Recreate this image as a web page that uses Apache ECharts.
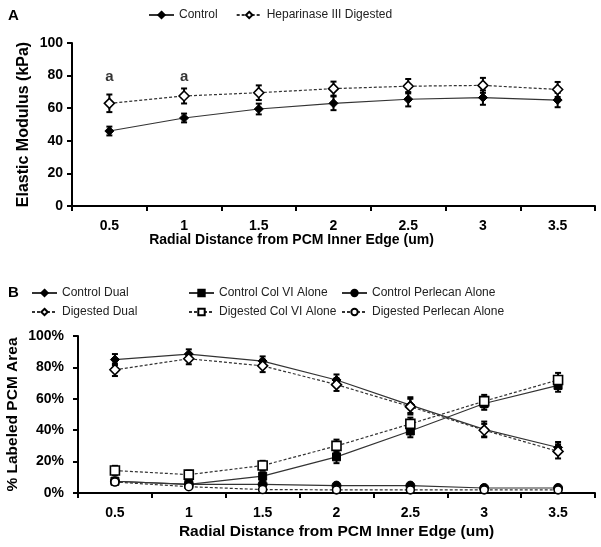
<!DOCTYPE html>
<html><head><meta charset="utf-8">
<script src="https://cdn.jsdelivr.net/npm/echarts@6/dist/echarts.min.js"></script>
<style>html,body{margin:0;padding:0;background:#fff}#c{width:601px;height:547px}</style>
</head><body><div id="c"></div>
<script>
const categories = ['0.5','1','1.5','2','2.5','3','3.5'];
const yTicksA = [0,20,40,60,80,100];
// Panel A
const controlMod = [46, 54, 59.5, 63, 65.5, 66.5, 65];
const controlModErr = [2.7, 2.7, 3.3, 4.2, 4.4, 4.4, 4.4];
const digestedMod = [63, 67.5, 69.5, 72, 73.5, 74, 71.5];
const digestedModErr = [5.4, 4.6, 4.5, 4.3, 4.4, 4.6, 4.6];
const sigLabelY = [79, 79, null, null, null, null, null];
// Panel B (percent)
const controlDual = [85, 88.5, 84, 72, 56, 40.5, 29];
const controlDualErr = [3.5, 3, 3, 3.5, 5, 5, 3.5];
const digestedDual = [78.5, 85.5, 81, 69, 55, 40, 26.5];
const digestedDualErr = [4, 3.5, 4, 4, 5, 4, 4.5];
const controlCol = [7.5, 5.5, 10.7, 23, 39.5, 57, 68.5];
const controlColErr = [2, 1.5, 2.5, 4, 4, 4, 4];
const digestedCol = [14.3, 11.7, 17.5, 30, 44, 58.5, 72];
const digestedColErr = [3, 2.5, 3, 4, 4, 4, 4.5];
const controlPerl = [7.5, 5.5, 5.5, 4.7, 4.7, 3.2, 3.2];
const controlPerlErr = [1.5, 1, 1, 1, 1, 1, 1];
const digestedPerl = [7, 4, 2.2, 2, 2, 2, 2];
const digestedPerlErr = [1.5, 1, 1, 0.8, 0.8, 0.8, 0.8];

const FF = 'Liberation Sans, Arial, sans-serif';
const chart = echarts.init(document.getElementById('c'));

function errSeries(vals, errs, xi, yi) {
  return {
    type: 'custom', xAxisIndex: xi, yAxisIndex: yi, z: 3, silent: true,
    data: vals.map((v, i) => [i, v, errs[i]]),
    encode: {x: 0, y: 1},
    renderItem: function (params, api) {
      const x = api.value(0), y = api.value(1), e = api.value(2);
      const hi = api.coord([x, y + e]);
      const lo = api.coord([x, y - e]);
      const w = 3;
      const st = {stroke: '#000', lineWidth: 2};
      return {type: 'group', children: [
        {type: 'line', shape: {x1: hi[0], y1: hi[1], x2: lo[0], y2: lo[1]}, style: st},
        {type: 'line', shape: {x1: hi[0] - w, y1: hi[1], x2: hi[0] + w, y2: hi[1]}, style: st},
        {type: 'line', shape: {x1: lo[0] - w, y1: lo[1], x2: lo[0] + w, y2: lo[1]}, style: st}
      ]};
    }
  };
}
function lineSeries(name, vals, xi, yi, symbol, filled, dashed, size) {
  return {
    name: name, type: 'line', xAxisIndex: xi, yAxisIndex: yi, z: 5,
    data: vals, symbol: symbol, symbolSize: size, showAllSymbol: true,
    lineStyle: {color: '#333', width: 1.2, type: dashed ? [3, 2] : 'solid'},
    itemStyle: filled ? {color: '#000', borderColor: '#000', borderWidth: 1}
                      : {color: '#fff', borderColor: '#000', borderWidth: 1.6},
    emphasis: {disabled: true}
  };
}
const axisLabelStyle = {fontFamily: FF, fontWeight: 'bold', fontSize: 14, color: '#000'};
function xAx(gi, gap, fs, pad) {
  return {type: 'category', gridIndex: gi, data: categories, boundaryGap: true,
    axisLine: {lineStyle: {color: '#000', width: 2}},
    axisTick: {show: true, alignWithLabel: false, length: 5, lineStyle: {color: '#000', width: 2}},
    axisLabel: Object.assign({margin: 13, interval: 0}, axisLabelStyle),
    name: 'Radial Distance from PCM Inner Edge (um)', nameLocation: 'middle', nameGap: gap,
    nameMoveOverlap: false,
    nameTextStyle: {fontFamily: FF, fontWeight: 'bold', fontSize: fs, color: '#000', padding: pad}};
}
function yAx(gi, name, gap, fmt, margin, fs) {
  return {type: 'value', gridIndex: gi, min: 0, max: 100, interval: 20,
    splitLine: {show: false},
    axisLine: {show: true, lineStyle: {color: '#000', width: 2}},
    axisTick: {show: true, length: 5, lineStyle: {color: '#000', width: 2}},
    axisLabel: Object.assign({margin: margin, formatter: fmt}, axisLabelStyle),
    name: name, nameLocation: 'middle', nameGap: gap, nameRotate: 90,
    nameMoveOverlap: false,
    nameTextStyle: {fontFamily: FF, fontWeight: 'bold', fontSize: fs, color: '#000'}};
}
const legendText = {fontFamily: FF, fontSize: 12, color: '#222'};
const legendBase = {itemWidth: 25, itemHeight: 8, textStyle: legendText, selectedMode: false, padding: 0};

chart.setOption({
  animation: false,
  backgroundColor: '#fff',
  title: [
    {text: 'A', left: 3, top: 3, textStyle: {fontFamily: FF, fontWeight: 'bold', fontSize: 15, color: '#000'}},
    {text: 'B', left: 3, top: 280, textStyle: {fontFamily: FF, fontWeight: 'bold', fontSize: 15, color: '#000'}}
  ],
  legend: [
    Object.assign({}, legendBase, {left: 148, top: 9, itemGap: 18, data: ['Control', 'Heparinase III Digested']}),
    Object.assign({}, legendBase, {left: 31, top: 287, orient: 'vertical', itemGap: 7, data: ['Control Dual', 'Digested Dual']}),
    Object.assign({}, legendBase, {left: 188, top: 287, orient: 'vertical', itemGap: 7, data: ['Control Col VI Alone', 'Digested Col VI Alone']}),
    Object.assign({}, legendBase, {left: 341, top: 287, orient: 'vertical', itemGap: 7, data: ['Control Perlecan Alone', 'Digested Perlecan Alone']})
  ],
  grid: [
    {left: 72, right: 6, top: 43, height: 163, containLabel: false, outerBoundsMode: 'none'},
    {left: 78, right: 6, top: 336, height: 157, containLabel: false, outerBoundsMode: 'none'}
  ],
  xAxis: [xAx(0, 27, 14, [0, 84, 0, 0]), xAx(1, 31, 15.5, 0)],
  yAxis: [yAx(0, 'Elastic Modulus (kPa)', 40, '{value}', 9, 16), yAx(1, '% Labeled PCM Area', 57, '{value}%', 14, 15.5)],
  series: [
    errSeries(controlMod, controlModErr, 0, 0),
    errSeries(digestedMod, digestedModErr, 0, 0),
    lineSeries('Control', controlMod, 0, 0, 'diamond', true, false, 9),
    lineSeries('Heparinase III Digested', digestedMod, 0, 0, 'diamond', false, true, 10),
    {type: 'scatter', xAxisIndex: 0, yAxisIndex: 0, data: sigLabelY, symbolSize: 0, silent: true,
      label: {show: true, position: 'inside', formatter: 'a', fontFamily: FF, fontWeight: 'bold', fontSize: 15, color: '#000'}},
    errSeries(controlDual, controlDualErr, 1, 1),
    errSeries(digestedDual, digestedDualErr, 1, 1),
    errSeries(controlCol, controlColErr, 1, 1),
    errSeries(digestedCol, digestedColErr, 1, 1),
    errSeries(controlPerl, controlPerlErr, 1, 1),
    errSeries(digestedPerl, digestedPerlErr, 1, 1),
    lineSeries('Control Dual', controlDual, 1, 1, 'diamond', true, false, 9),
    lineSeries('Digested Dual', digestedDual, 1, 1, 'diamond', false, true, 10),
    lineSeries('Control Col VI Alone', controlCol, 1, 1, 'rect', true, false, 8),
    lineSeries('Digested Col VI Alone', digestedCol, 1, 1, 'rect', false, true, 9),
    lineSeries('Control Perlecan Alone', controlPerl, 1, 1, 'circle', true, false, 9),
    lineSeries('Digested Perlecan Alone', digestedPerl, 1, 1, 'circle', false, true, 8)
  ]
});
</script></body></html>
